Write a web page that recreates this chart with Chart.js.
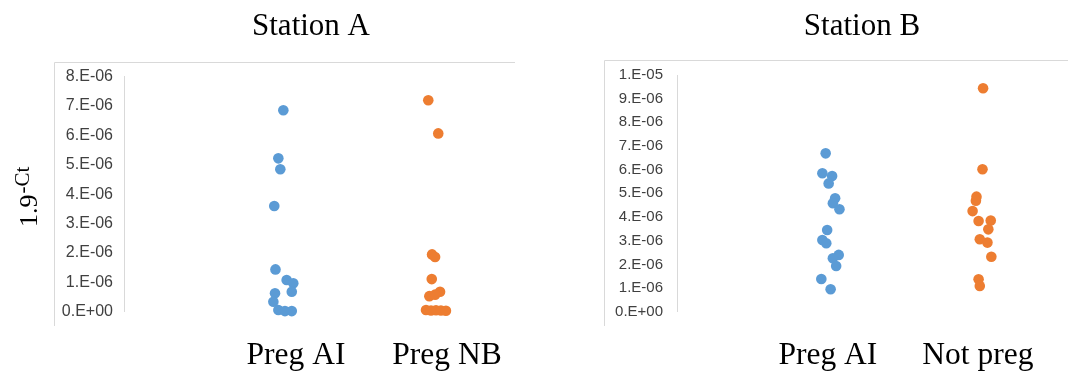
<!DOCTYPE html>
<html>
<head>
<meta charset="utf-8">
<script src="https://cdn.jsdelivr.net/npm/chart.js@4.4.0/dist/chart.umd.min.js"></script>
<style>
  html, body { margin: 0; padding: 0; background: #fff; }
  #wrap { position: relative; width: 1068px; height: 371px; overflow: hidden; }
  canvas { position: absolute; top: 0; }
  #chartA { left: 0; }
  #chartB { left: 540px; }
</style>
</head>
<body>
<div id="wrap">
  <canvas id="chartA" width="540" height="371"></canvas>
  <canvas id="chartB" width="528" height="371"></canvas>
</div>
<script>
// ---- Station A ----
const stationATitle = 'Station A';
const stationACategories = ['Preg AI', 'Preg NB'];
const stationATicks = ['0.E+00', '1.E-06', '2.E-06', '3.E-06', '4.E-06', '5.E-06', '6.E-06', '7.E-06', '8.E-06'];
// x = category number (1, 2) plus jitter within the category
const stationAPregAIx = [0.916, 0.883, 0.896, 0.856, 0.864, 0.938, 0.982, 0.972, 0.861, 0.850, 0.883, 0.927, 0.972];
const stationAPregAIy = [6.86e-6, 5.22e-6, 4.85e-6, 3.60e-6, 1.44e-6, 1.08e-6, 0.97e-6, 0.68e-6, 0.63e-6, 0.34e-6, 0.06e-6, 0.02e-6, 0.02e-6];
const stationAPregNBx = [1.876, 1.942, 1.901, 1.921, 1.899, 1.954, 1.883, 1.921, 1.861, 1.894, 1.927, 1.960, 1.993];
const stationAPregNBy = [7.20e-6, 6.07e-6, 1.95e-6, 1.86e-6, 1.11e-6, 0.68e-6, 0.53e-6, 0.58e-6, 0.06e-6, 0.04e-6, 0.05e-6, 0.04e-6, 0.03e-6];

// ---- Station B ----
const stationBTitle = 'Station B';
const stationBCategories = ['Preg AI', 'Not preg'];
const stationBTicks = ['0.E+00', '1.E-06', '2.E-06', '3.E-06', '4.E-06', '5.E-06', '6.E-06', '7.E-06', '8.E-06', '9.E-06', '1.E-05'];
const stationBPregAIx = [0.985, 0.963, 1.028, 1.005, 1.048, 1.033, 1.077, 0.995, 0.963, 0.989, 1.072, 1.033, 1.055, 0.956, 1.018];
const stationBPregAIy = [6.69e-6, 5.85e-6, 5.73e-6, 5.42e-6, 4.79e-6, 4.58e-6, 4.33e-6, 3.45e-6, 3.03e-6, 2.89e-6, 2.40e-6, 2.26e-6, 1.93e-6, 1.38e-6, 0.95e-6];
const stationBNotPregx = [2.035, 2.031, 1.991, 1.987, 1.965, 2.005, 2.086, 2.070, 2.013, 2.064, 2.090, 2.005, 2.013];
const stationBNotPregy = [9.44e-6, 6.02e-6, 4.86e-6, 4.69e-6, 4.25e-6, 3.83e-6, 3.85e-6, 3.48e-6, 3.06e-6, 2.92e-6, 2.32e-6, 1.37e-6, 1.09e-6];

const yAxisTitle = '1.9';
const yAxisTitleSup = '-Ct';

const BLUE = '#5B9BD5';
const ORANGE = '#ED7D31';
const SERIF = '"Liberation Serif", "Times New Roman", serif';
const SANS = '"Liberation Sans", Arial, sans-serif';

Chart.defaults.font.family = SANS;

// "8.E-06" -> 8e-6
const tickValue = s => parseFloat(s.replace('.E', 'E'));

// Light chart-area frame (top and left edges)
const framePlugin = {
  id: 'frame',
  beforeDraw(chart, args, opts) {
    const ctx = chart.ctx;
    ctx.save();
    ctx.strokeStyle = '#d9d9d9';
    ctx.lineWidth = 1;
    ctx.beginPath();
    ctx.moveTo(opts.left, opts.bottom);
    ctx.lineTo(opts.left, opts.top);
    ctx.lineTo(opts.right, opts.top);
    ctx.stroke();
    ctx.restore();
  }
};

// Panel title and optional rotated y-axis title
const captionPlugin = {
  id: 'captions',
  afterDraw(chart, args, opts) {
    const ctx = chart.ctx;
    ctx.save();
    ctx.fillStyle = '#000';
    ctx.font = `${opts.titleSize}px ${SERIF}`;
    ctx.textAlign = 'center';
    ctx.textBaseline = 'alphabetic';
    ctx.fillText(opts.title, opts.titleX, opts.titleY);
    if (opts.yTitle) {
      ctx.translate(opts.yTitleX, opts.yTitleY);
      ctx.rotate(-Math.PI / 2);
      ctx.textAlign = 'left';
      ctx.font = `${opts.yTitleSize}px ${SERIF}`;
      ctx.fillText(opts.yTitle, 0, 0);
      const w = ctx.measureText(opts.yTitle).width;
      ctx.font = `${opts.yTitleSupSize}px ${SERIF}`;
      ctx.fillText(opts.yTitleSup, w + 1, -opts.yTitleSupRise);
    }
    ctx.restore();
  }
};

function toPoints(xs, ys) {
  return xs.map((x, i) => ({ x, y: ys[i] }));
}

function stripChart(canvas, o) {
  const yValues = o.ticks.map(tickValue);
  return new Chart(canvas, {
    type: 'scatter',
    data: {
      datasets: o.series.map(s => ({
        data: toPoints(s.x, s.y),
        backgroundColor: s.color,
        borderWidth: 0,
        pointRadius: 5.3,
        pointHoverRadius: 5.3,
        clip: false
      }))
    },
    options: {
      responsive: false,
      animation: false,
      devicePixelRatio: 1,
      events: [],
      layout: { padding: { top: o.plotTop, right: o.padRight, left: 0, bottom: 0 } },
      plugins: {
        legend: { display: false },
        tooltip: { enabled: false },
        frame: o.frame,
        captions: o.captions
      },
      scales: {
        x: {
          type: 'linear',
          min: o.xMin,
          max: o.xMax,
          grid: { display: false, drawTicks: false },
          border: { display: false },
          afterBuildTicks: sc => { sc.ticks = o.categories.map((c, i) => ({ value: i + 1 })); },
          afterFit: sc => { sc.height = o.xAxisHeight; },
          ticks: {
            autoSkip: false,
            maxRotation: 0,
            minRotation: 0,
            padding: o.xLabelPad,
            color: '#000',
            font: { family: SERIF, size: 31.5 },
            callback: (v, i) => o.categories[i]
          }
        },
        y: {
          type: 'linear',
          min: yValues[0],
          max: yValues[yValues.length - 1],
          grid: { display: false, drawTicks: false },
          border: { display: true, color: '#d9d9d9', width: 1 },
          afterBuildTicks: sc => { sc.ticks = yValues.map(v => ({ value: v })); },
          afterFit: sc => { sc.width = o.yAxisWidth; },
          ticks: {
            padding: o.yLabelPad,
            color: '#404040',
            font: { family: SANS, size: o.yLabelSize },
            callback: (v, i) => o.ticks[i]
          }
        }
      }
    },
    plugins: [framePlugin, captionPlugin]
  });
}

stripChart(document.getElementById('chartA'), {
  categories: stationACategories,
  ticks: stationATicks,
  series: [
    { x: stationAPregAIx, y: stationAPregAIy, color: BLUE },
    { x: stationAPregNBx, y: stationAPregNBy, color: ORANGE }
  ],
  plotTop: 76.7,
  padRight: 20,
  yAxisWidth: 124,
  yLabelPad: 11,
  yLabelSize: 16,
  xAxisHeight: 59.3,
  xLabelPad: 25,
  xMin: -0.1391,
  xMax: 2.4834,
  frame: { left: 54.5, top: 62.5, right: 515, bottom: 326 },
  captions: {
    title: stationATitle, titleX: 311, titleY: 35, titleSize: 31,
    yTitle: yAxisTitle, yTitleSup: yAxisTitleSup,
    yTitleX: 37, yTitleY: 227, yTitleSize: 26, yTitleSupSize: 21, yTitleSupRise: 8
  }
});

stripChart(document.getElementById('chartB'), {
  categories: stationBCategories,
  ticks: stationBTicks,
  series: [
    { x: stationBPregAIx, y: stationBPregAIy, color: BLUE },
    { x: stationBNotPregx, y: stationBNotPregy, color: ORANGE }
  ],
  plotTop: 75,
  padRight: 0,
  yAxisWidth: 137,
  yLabelPad: 14,
  yLabelSize: 15,
  xAxisHeight: 59.3,
  xLabelPad: 25,
  xMin: -0.0066,
  xMax: 2.566,
  frame: { left: 64.5, top: 60.5, right: 528, bottom: 326 },
  captions: {
    title: stationBTitle, titleX: 322, titleY: 35, titleSize: 31
  }
});
</script>
</body>
</html>
